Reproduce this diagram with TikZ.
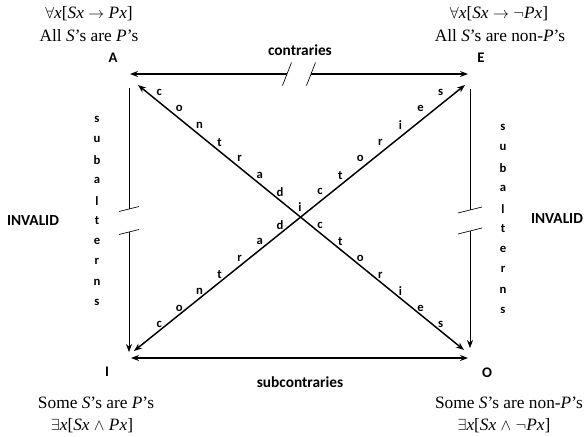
\documentclass[tikz,border=0pt]{standalone}
\usepackage{fontspec}
\setmainfont{Liberation Serif}
\newfontfamily\labfont{Carlito}
\usetikzlibrary{arrows.meta}

\begin{document}
\begin{tikzpicture}[x=0.75pt,y=-0.75pt,>={Stealth[length=6pt,width=4.5pt]},
  heavy/.style={line width=1.1pt},
  light/.style={line width=0.5pt},
  corner/.style={font=\labfont\bfseries\fontsize{11}{13}\selectfont,inner sep=0pt},
  lbl/.style={font=\labfont\bfseries\fontsize{11.5}{13}\selectfont,inner sep=0pt},
  ltr/.style={font=\labfont\bfseries\fontsize{9.5}{10}\selectfont,inner sep=0pt},
  prop/.style={font=\fontsize{13}{15}\selectfont,inner sep=0pt}]
  \useasboundingbox (0,0) rectangle (586,436);
  % square corners and diagonal ends
  \coordinate (cA) at (130,74);
  \coordinate (cE) at (468,74);
  \coordinate (cI) at (131,358);
  \coordinate (cO) at (468,358);
  \coordinate (dA) at (138,85);
  \coordinate (dE) at (465,85);
  \coordinate (dI) at (134,351);
  \coordinate (dO) at (464,350);
  \coordinate (mid) at (299,216);
  % breaks
  \coordinate (tL) at (287,74);
  \coordinate (tR) at (311,74);
  \coordinate (lU) at (129,88);
  \coordinate (lB) at (129,209);
  \coordinate (lC) at (129,232);
  \coordinate (lD) at (129,352);
  \coordinate (rU) at (470,89);
  \coordinate (rB) at (470,210);
  \coordinate (rC) at (470,231);
  \coordinate (rD) at (470,348);

  % corner letters
  \node[corner] (A) at (113,58) {A};
  \node[corner] (E) at (481,58) {E};
  \node[corner] (I) at (107,372) {I};
  \node[corner] (O) at (487,373) {O};

  % propositions
  \node[prop] (fA) at (89,14) {$\forall$\textit{x}[\textit{Sx} $\rightarrow$ \textit{Px}]};
  \node[prop] (sA) at (89,36) {All \textit{S}’s are \textit{P}’s};
  \node[prop] (fE) at (499,14) {$\forall$\textit{x}[\textit{Sx} $\rightarrow$ $\neg$\textit{Px}]};
  \node[prop] (sE) at (500,36) {All \textit{S}’s are non-\textit{P}’s};
  \node[prop] (sI) at (96,403) {Some \textit{S}’s are \textit{P}’s};
  \node[prop] (fI) at (92,426) {$\exists$\textit{x}[\textit{Sx} $\wedge$ \textit{Px}]};
  \node[prop] (sO) at (509,403) {Some \textit{S}’s are non-\textit{P}’s};
  \node[prop] (fO) at (504,426) {$\exists$\textit{x}[\textit{Sx} $\wedge$ $\neg$\textit{Px}]};

  % relation names
  \node[lbl] (con) at (300,50) {contraries};
  \node[lbl] (sub) at (300,382) {subcontraries};
  \node[lbl] (invL) at (33,221) {INVALID};
  \node[lbl] (invR) at (557,219) {INVALID};

  % contraries
  \draw[heavy,->] (tL) -- (cA);
  \draw[heavy,->] (tR) -- (cE);
  \draw[light] (tL) ++(-4.5,11.5) -- ++(9,-23);
  \draw[light] (tR) ++(-4.5,11.5) -- ++(9,-23);
  % subcontraries
  \draw[heavy,<->] (cI) -- (cO);
  % subalterns
  \draw[light] (lU) -- (lB);
  \draw[light,->] (lC) -- (lD);
  \draw[light] (lB) ++(-10,2.5) -- ++(20,-5);
  \draw[light] (lC) ++(-10,2.5) -- ++(20,-5);
  \draw[light] (rU) -- (rB);
  \draw[light,->] (rC) -- (rD);
  \draw[light] (rB) ++(-12,3) -- ++(24,-6);
  \draw[light] (rC) ++(-12,3) -- ++(24,-6);
  % contradictories
  \draw[heavy,<->] (dA) -- (dO);
  \draw[heavy,<->] (dI) -- (dE);

  % vertical words
  \foreach \l [count=\k] in {s,u,b,a,l,t,e,r,n,s} {
    \node[ltr] at (97,{119+20.4*(\k-1)}) {\l};
    \node[ltr] at (503,{127+20.4*(\k-1)}) {\l};
  }
  % diagonal words
  \foreach \l [count=\k] in {c,o,n,t,r,a,d} {
    \node[ltr] at ({300-20.1*(8-\k)},{208.5-16.6*(8-\k)}) {\l};
    \node[ltr] at ({300-20.1*(8-\k)},{208.5+16.6*(8-\k)}) {\l};
  }
  \foreach \l [count=\k] in {c,t,o,r,i,e,s} {
    \node[ltr] at ({300+20.1*\k},{208.5-16.6*\k}) {\l};
    \node[ltr] at ({300+20.1*\k},{208.5+16.6*\k}) {\l};
  }
  \node[ltr] (ctr) at (300,207) {i};
\end{tikzpicture}
\end{document}
